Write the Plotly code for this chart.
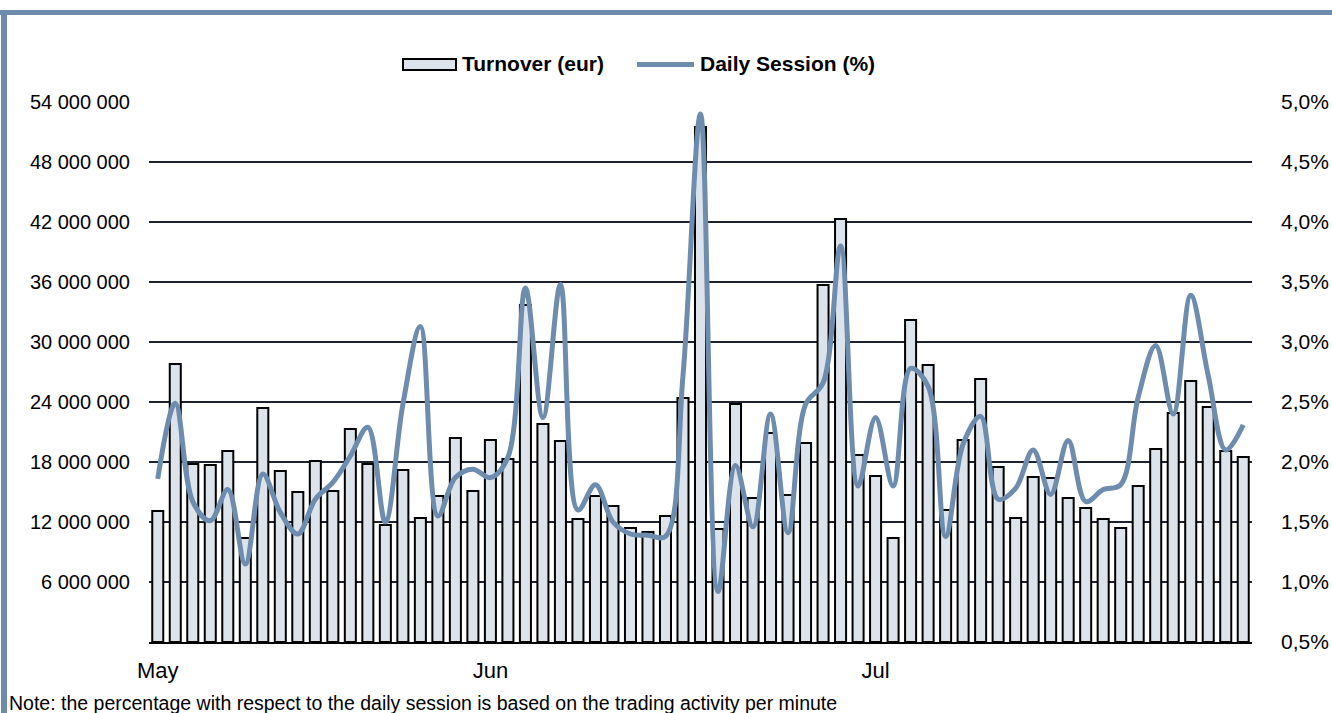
import plotly.graph_objects as go

# ---------------- data ----------------
turnover_m = [13.1, 27.8, 17.8, 17.7, 19.1, 10.4, 23.4, 17.1, 15.0, 18.1,
              15.1, 21.3, 17.8, 11.7, 17.2, 12.4, 14.6, 20.4, 15.1, 20.2,
              18.3, 33.7, 21.8, 20.1, 12.3, 14.6, 13.6, 11.4, 11.0, 12.6,
              24.4, 51.5, 11.3, 23.8, 14.4, 20.9, 14.7, 19.9, 35.7, 42.3,
              18.7, 16.6, 10.4, 32.2, 27.7, 13.2, 20.2, 26.3, 17.5, 12.4,
              16.5, 16.4, 14.4, 13.4, 12.3, 11.4, 15.6, 19.3, 22.9, 26.1,
              23.5, 19.1, 18.5]
session_pct = [1.86, 2.49, 1.67, 1.51, 1.77, 1.15, 1.90, 1.58, 1.40, 1.69,
               1.83, 2.05, 2.29, 1.50, 2.48, 3.13, 1.55, 1.87, 1.94, 1.87,
               2.04, 3.45, 2.37, 3.48, 1.60, 1.81, 1.50, 1.40, 1.39, 1.38,
               2.72, 4.90, 0.92, 1.97, 1.46, 2.40, 1.41, 2.48, 2.66, 3.80,
               1.80, 2.37, 1.80, 2.78, 2.63, 1.38, 2.15, 2.38, 1.69, 1.78,
               2.10, 1.73, 2.18, 1.67, 1.77, 1.81, 2.54, 2.97, 2.40, 3.39,
               2.72, 2.10, 2.31]
day_index = list(range(len(turnover_m)))
turnover_eur = [v * 1e6 for v in turnover_m]

month_pos = [0, 19, 41]
month_labels = ["May", "Jun", "Jul"]
left_vals = [6e6, 12e6, 18e6, 24e6, 30e6, 36e6, 42e6, 48e6, 54e6]
left_text = ["6 000 000", "12 000 000", "18 000 000", "24 000 000", "30 000 000",
             "36 000 000", "42 000 000", "48 000 000", "54 000 000"]
right_vals = [0.5, 1.0, 1.5, 2.0, 2.5, 3.0, 3.5, 4.0, 4.5, 5.0]
right_text = ["0,5%", "1,0%", "1,5%", "2,0%", "2,5%", "3,0%", "3,5%", "4,0%", "4,5%", "5,0%"]

bar_name = "Turnover (eur)"
line_name = "Daily Session (%)"
note = "Note: the percentage with respect to the daily session is based on the trading activity per minute"

# ---------------- styling ----------------
W, H = 1332, 713
L, R, T, B = 149, 80, 102, 71
FONT = "Liberation Sans, Arial, sans-serif"
BAR_FILL = "#DCE3EA"
LINE_COL = "#6E8CAE"
GRID_COL = "#1E2230"
BORDER_COL = "#6D8BAB"

PW = W - L - R
PH = H - T - B


def px2x(px):
    return (px - L) / PW


def px2y(py):
    return (H - B - py) / PH


fig = go.Figure()
fig.add_trace(go.Bar(
    x=day_index, y=turnover_eur, name=bar_name,
    marker=dict(color=BAR_FILL, line=dict(color="black", width=2)),
    yaxis="y", showlegend=False,
))
fig.add_trace(go.Scatter(
    x=day_index, y=session_pct, name=line_name, mode="lines",
    line=dict(color=LINE_COL, width=5, shape="spline", smoothing=1.0),
    yaxis="y2", showlegend=False,
))

shapes = [
    # frame border
    dict(type="rect", xref="paper", yref="paper", x0=px2x(-5), x1=px2x(W + 5),
         y0=px2y(15), y1=px2y(10), fillcolor=BORDER_COL, line=dict(width=0), layer="above"),
    dict(type="rect", xref="paper", yref="paper", x0=px2x(1), x1=px2x(7),
         y0=px2y(H + 5), y1=px2y(10), fillcolor=BORDER_COL, line=dict(width=0), layer="above"),
    # legend symbols
    dict(type="rect", xref="paper", yref="paper", x0=px2x(403), x1=px2x(456),
         y0=px2y(70), y1=px2y(59), fillcolor=BAR_FILL, line=dict(color="black", width=2)),
    dict(type="line", xref="paper", yref="paper", x0=px2x(637), x1=px2x(694),
         y0=px2y(64.5), y1=px2y(64.5), line=dict(color=LINE_COL, width=5)),
]

annotations = [
    dict(text="<b>" + bar_name + "</b>", xref="paper", yref="paper",
         x=px2x(460), y=px2y(63.5), xanchor="left", yanchor="middle", showarrow=False,
         font=dict(family=FONT, size=21, color="black")),
    dict(text="<b>" + line_name + "</b>", xref="paper", yref="paper",
         x=px2x(698), y=px2y(63.5), xanchor="left", yanchor="middle", showarrow=False,
         font=dict(family=FONT, size=21, color="black")),
    dict(text=note, xref="paper", yref="paper",
         x=px2x(7), y=px2y(703), xanchor="left", yanchor="middle", showarrow=False,
         font=dict(family=FONT, size=19.5, color="black")),
]

fig.update_layout(
    width=W, height=H,
    margin=dict(l=L, r=R, t=T, b=B, pad=0, autoexpand=False),
    paper_bgcolor="white", plot_bgcolor="white",
    font=dict(family=FONT, size=20, color="black"),
    bargap=0.37,
    showlegend=False,
    shapes=shapes,
    annotations=annotations,
    xaxis=dict(
        range=[-0.5, len(day_index) - 0.5], automargin=False,
        tickmode="array", tickvals=month_pos, ticktext=month_labels,
        showgrid=False, zeroline=False,
        showline=True, linecolor="black", linewidth=2,
        ticks="", ticklabelstandoff=8,
        tickfont=dict(family=FONT, size=22, color="black"),
    ),
    yaxis=dict(
        range=[0, 54e6], automargin=False,
        tickmode="array", tickvals=left_vals, ticktext=left_text,
        showgrid=True, gridcolor=GRID_COL, gridwidth=2,
        zeroline=False, showline=False, ticks="", ticklabelstandoff=18,
        tickfont=dict(family=FONT, size=20, color="black"),
    ),
    yaxis2=dict(
        range=[0.5, 5.0], overlaying="y", side="right", automargin=False,
        tickmode="array", tickvals=right_vals, ticktext=right_text,
        showgrid=False, zeroline=False, showline=False, ticks="",
        ticklabelstandoff=28,
        tickfont=dict(family=FONT, size=21, color="black"),
    ),
)

fig.write_html(
    "out.html",
    config={"displayModeBar": False},
    post_script="document.body.style.margin='0';document.body.style.overflow='hidden';",
)
